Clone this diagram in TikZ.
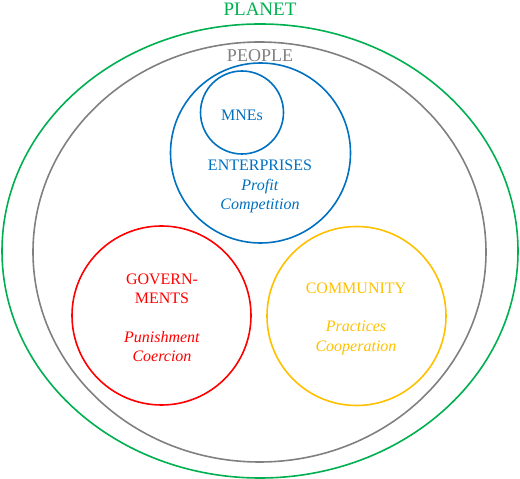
\documentclass[tikz,border=0pt]{standalone}
\usepackage{fontspec}
\setmainfont{Liberation Serif}
\usetikzlibrary{positioning, shapes.geometric}
\definecolor{planetgreen}{HTML}{00B050}
\definecolor{peoplegray}{HTML}{808080}
\definecolor{entblue}{HTML}{0070C0}
\definecolor{govred}{HTML}{FF0000}
\definecolor{comyellow}{HTML}{FFC000}

\begin{document}
\begin{tikzpicture}[x=1pt, y=1pt,
        ring/.style={draw, circle, line width=1.6pt, inner sep=0pt},
        oval/.style={draw, ellipse, line width=1.6pt, inner sep=0pt},
        lbl/.style={align=center, inner sep=0pt, font=\fontsize{16}{19.3}\selectfont}]
        \useasboundingbox (0,0) rectangle (520,479);

        % outer rings
        \node (planet) [oval, draw=planetgreen, minimum width=516pt, minimum height=454pt] at (260,228) {};
        \node (people) [oval, draw=peoplegray, minimum width=453pt, minimum height=420pt] at (259.5,227) {};

        % actors
        \node (ent) [ring, draw=entblue, minimum size=180pt] at (260.5,326) {};
        \node (mne) [ring, draw=entblue, minimum size=83pt] at (242,366.5) {};
        \node (gov) [ring, draw=govred, minimum size=179pt] at (161.5,163.5) {};
        \node (com) [ring, draw=comyellow, minimum size=179pt] at (356.5,163) {};

        % labels
        \node (planetlbl) [lbl, text=planetgreen, font=\fontsize{19}{22}\selectfont] at (260,470) {PLANET};
        \node (peoplelbl) [lbl, text=peoplegray, font=\fontsize{18}{21}\selectfont] at (260,423.5) {PEOPLE};
        \node (mnelbl) [lbl, text=entblue] at (242,364) {MNEs};
        \node (entlbl) [lbl, text=entblue] at (260,292.5) {ENTERPRISES\\ \textit{Profit}\\ \textit{Competition}};
        \node (govlbl) [lbl, text=govred] at (162,161) {GOVERN-\\ MENTS\\[19.3pt] \textit{Punishment}\\ \textit{Coercion}};
        \node (comlbl) [lbl, text=comyellow] at (356,160.5) {COMMUNITY\\[19.3pt] \textit{Practices}\\ \textit{Cooperation}};
\end{tikzpicture}
\end{document}
